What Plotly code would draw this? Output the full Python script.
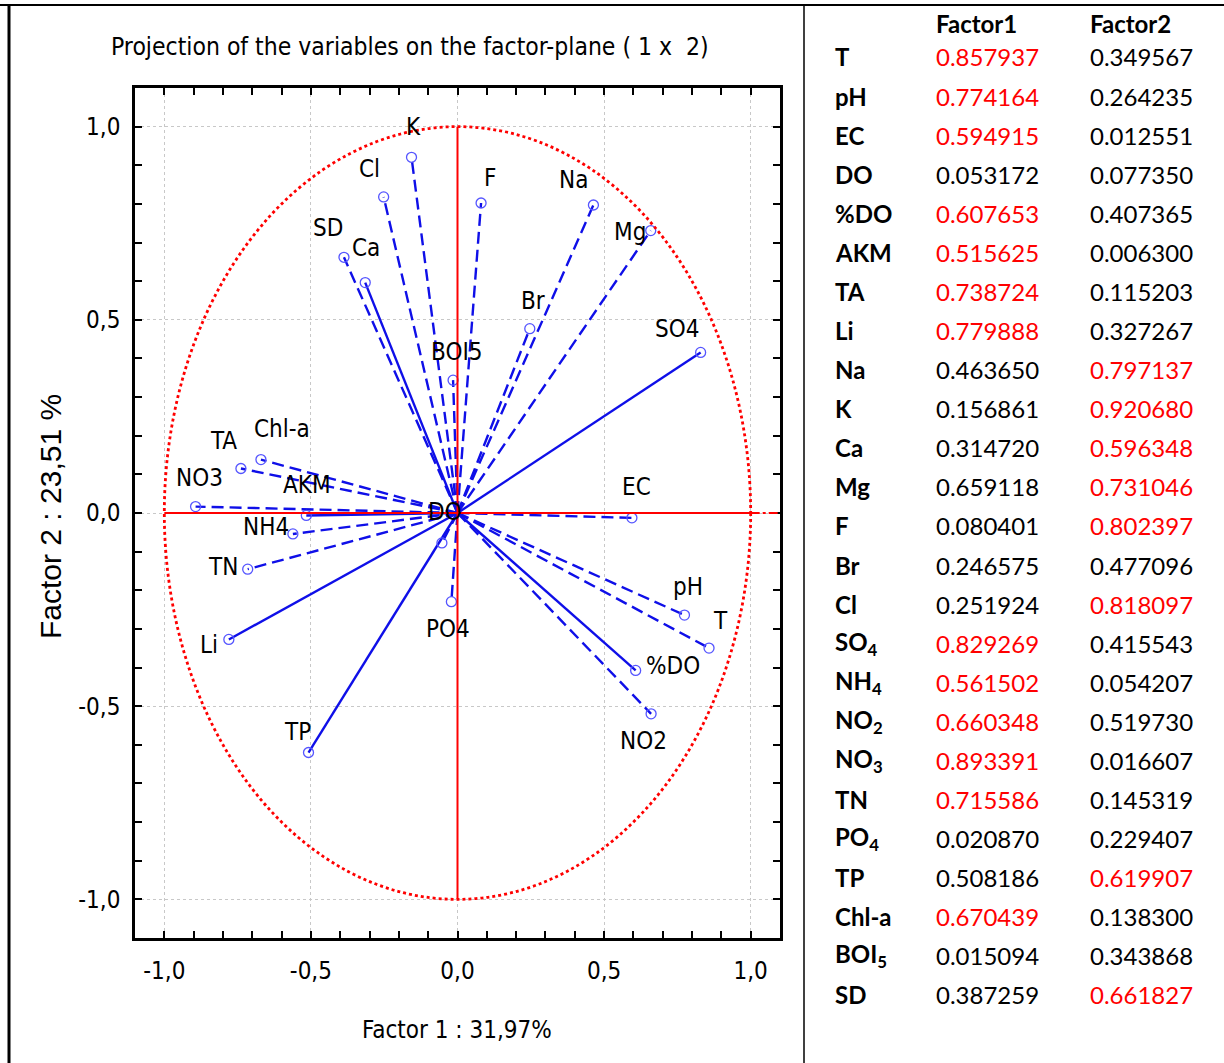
import plotly.graph_objects as go

# ---------------- data ----------------
variables = ["T", "pH", "EC", "DO", "%DO", "AKM", "TA", "Li", "Na", "K", "Ca", "Mg", "F",
             "Br", "Cl", "SO4", "NH4", "NO2", "NO3", "TN", "PO4", "TP", "Chl-a", "BOI5", "SD"]
table_labels = ["T", "pH", "EC", "DO", "%DO", "AKM", "TA", "Li", "Na", "K", "Ca", "Mg", "F",
                "Br", "Cl", "SO<sub>4</sub>", "NH<sub>4</sub>", "NO<sub>2</sub>", "NO<sub>3</sub>",
                "TN", "PO<sub>4</sub>", "TP", "Chl-a", "BOI<sub>5</sub>", "SD"]
factor1 = [0.857937, 0.774164, 0.594915, -0.053172, 0.607653, -0.515625, -0.738724, -0.779888,
           0.463650, -0.156861, -0.314720, 0.659118, 0.080401, 0.246575, -0.251924, 0.829269,
           -0.561502, 0.660348, -0.893391, -0.715586, -0.020870, -0.508186, -0.670439,
           -0.015094, -0.387259]
factor2 = [-0.349567, -0.264235, -0.012551, -0.077350, -0.407365, -0.006300, 0.115203, -0.327267,
           0.797137, 0.920680, 0.596348, 0.731046, 0.802397, 0.477096, 0.818097, 0.415543,
           -0.054207, -0.519730, 0.016607, -0.145319, -0.229407, -0.619907, 0.138300,
           0.343868, 0.661827]
tick_vals = [-1.0, -0.5, 0.0, 0.5, 1.0]
tick_text = ["-1,0", "-0,5", "0,0", "0,5", "1,0"]
title_text = "Projection of the variables on the factor-plane ( 1 x  2)"
x_title = "Factor 1 : 31,97%"
y_title = "Factor 2 : 23,51 %"
col_headers = ["Factor1", "Factor2"]

# ---------------- styles ----------------
W, H = 1224, 1063
NARROW = "DejaVu Sans Condensed, Liberation Sans Narrow, Arial Narrow, sans-serif"
TABLE_FONT = "Lato, Open Sans, sans-serif"
BLUE = "#0f0fe8"
RED = "#ff0000"
solid_vars = {"SO4", "Li", "TP", "Ca", "%DO", "AKM"}
# label offsets in pixels (dx right, dy up)
label_shift = {
    "T": (11, 27), "pH": (4, 28), "EC": (5, 31), "DO": (3, 31), "%DO": (37, 4),
    "AKM": (1, 30), "TA": (-17, 27), "Li": (-20, -6), "Na": (-20, 25), "K": (2, 30),
    "Ca": (1, 35), "Mg": (-21, -1), "F": (9, 25), "Br": (3, 28), "Cl": (-14, 28),
    "SO4": (-24, 23), "NH4": (-27, 7), "NO2": (-8, -27), "NO3": (4, 29), "TN": (-25, 2),
    "PO4": (-3, -27), "TP": (-11, 21), "Chl-a": (21, 31), "BOI5": (3, 28), "SD": (-16, 29),
}

PX_L, PX_R, PX_T, PX_B = 135, 780, 88, 938


def px(x):
    return x / W


def py(y):
    return 1 - y / H


fig = go.Figure()

for name, a, b in zip(variables, factor1, factor2):
    fig.add_trace(go.Scatter(
        x=[0, a], y=[0, b], mode="lines",
        line=dict(color=BLUE, width=2.4,
                  dash="solid" if name in solid_vars else "12px,6px"),
        hoverinfo="skip", showlegend=False))

fig.add_trace(go.Scatter(
    x=factor1, y=factor2, mode="markers", text=variables,
    marker=dict(symbol="circle-open", size=10, color="#5555ff", line=dict(width=1.3)),
    showlegend=False))

annotations = []
for name, a, b in zip(variables, factor1, factor2):
    dx, dy = label_shift[name]
    annotations.append(dict(x=a, y=b, xref="x", yref="y", text=name, showarrow=False,
                            xshift=dx, yshift=dy, xanchor="center", yanchor="middle",
                            font=dict(family=NARROW, size=24, color="black")))

# titles
annotations.append(dict(x=px(410), y=py(47), xref="paper", yref="paper", text=title_text,
                        showarrow=False, xanchor="center", yanchor="middle",
                        font=dict(family=NARROW, size=24.5, color="black")))
annotations.append(dict(x=px(457), y=py(1030), xref="paper", yref="paper", text=x_title,
                        showarrow=False, xanchor="center", yanchor="middle",
                        font=dict(family=NARROW, size=24, color="black")))
annotations.append(dict(x=px(50), y=py(517), xref="paper", yref="paper", text=y_title,
                        showarrow=False, xanchor="center", yanchor="middle", textangle=-90,
                        font=dict(family="Liberation Sans, Arial, sans-serif", size=30,
                                  color="black")))

# table
COL_X = [934, 1088]
LABEL_X = 833
ROW0, ROW_STEP = 57, 39.08
for j, hdr in enumerate(col_headers):
    annotations.append(dict(x=px(COL_X[j]), y=py(24), xref="paper", yref="paper",
                            text="<b>%s</b>" % hdr, showarrow=False, xanchor="left",
                            yanchor="middle",
                            font=dict(family=TABLE_FONT, size=24, color="black")))
for i, (lab, a, b) in enumerate(zip(table_labels, factor1, factor2)):
    yy = py(ROW0 + ROW_STEP * i)
    annotations.append(dict(x=px(LABEL_X), y=yy, xref="paper", yref="paper",
                            text="<b>%s</b>" % lab, showarrow=False, xanchor="left",
                            yanchor="middle",
                            font=dict(family=TABLE_FONT, size=24, color="black")))
    vals = [abs(a), abs(b)]
    top = max(vals)
    for j, v in enumerate(vals):
        col = RED if (v == top and v > 0.5) else "black"
        annotations.append(dict(x=px(COL_X[j]), y=yy, xref="paper", yref="paper",
                                text="%.6f" % v, showarrow=False, xanchor="left",
                                yanchor="middle",
                                font=dict(family=TABLE_FONT, size=24, color=col)))

shapes = [
    # unit circle
    dict(type="circle", xref="x", yref="y", x0=-1, y0=-1, x1=1, y1=1,
         line=dict(color=RED, width=2.8, dash="dot")),
    dict(type="line", xref="x", yref="y", x0=0, y0=-1, x1=0, y1=1,
         line=dict(color=RED, width=2)),
    dict(type="line", xref="x", yref="y", x0=-1, y0=0, x1=1, y1=0,
         line=dict(color=RED, width=2)),
    dict(type="line", xref="x", yref="y", x0=1, y0=0, x1=1.1, y1=0,
         line=dict(color=RED, width=2, dash="dashdot")),
    # page borders
    dict(type="line", xref="paper", yref="paper", x0=0, x1=1, y0=py(5), y1=py(5),
         line=dict(color="black", width=2)),
    dict(type="line", xref="paper", yref="paper", x0=px(9), x1=px(9), y0=0, y1=py(5),
         line=dict(color="black", width=3)),
    dict(type="line", xref="paper", yref="paper", x0=px(804), x1=px(804), y0=0, y1=py(5),
         line=dict(color="black", width=1.5)),
]

axis_common = dict(
    range=[-1.1, 1.1], tickmode="array", tickvals=tick_vals, ticktext=tick_text,
    showline=True, linecolor="black", linewidth=2.5, mirror="ticks",
    ticks="inside", ticklen=7, tickwidth=2, tickcolor="black",
    minor=dict(tickmode="linear", tick0=0, dtick=0.1, ticks="inside", ticklen=7,
               tickwidth=2, tickcolor="black", showgrid=False),
    showgrid=True, gridcolor="#c8c8c8", griddash="dot", gridwidth=1, zeroline=False,
    tickfont=dict(family=NARROW, size=24, color="black"),
)

fig.update_layout(
    width=W, height=H, autosize=False,
    margin=dict(l=0, r=0, t=0, b=0),
    paper_bgcolor="white", plot_bgcolor="white",
    showlegend=False,
    xaxis=dict(domain=[px(PX_L), px(PX_R)], ticklabelstandoff=9, **axis_common),
    yaxis=dict(domain=[py(PX_B), py(PX_T)], ticklabelstandoff=7, **axis_common),
    annotations=annotations,
    shapes=shapes,
)

fig.write_html("out.html", config={"displayModeBar": False},
               post_script="document.body.style.margin='0';document.body.style.overflow='hidden';")
